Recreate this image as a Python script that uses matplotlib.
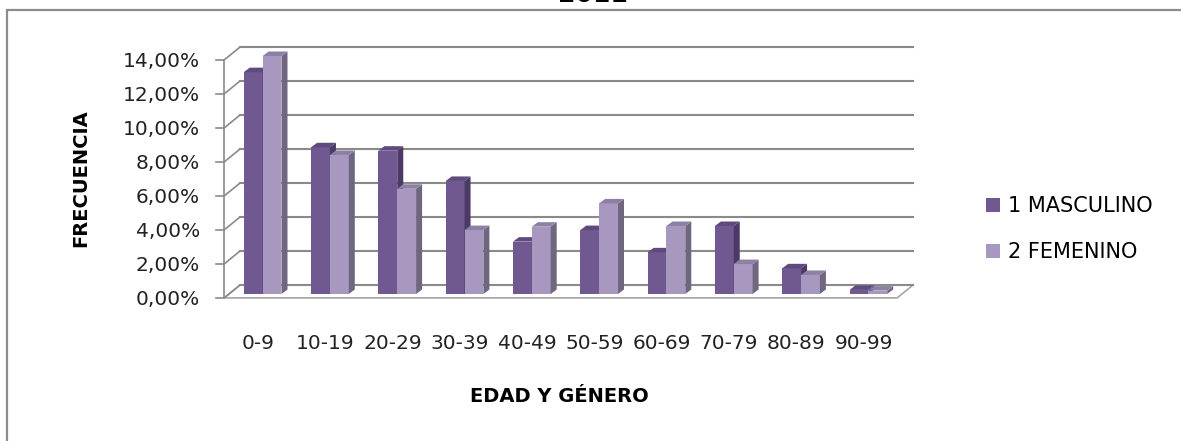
import matplotlib
matplotlib.use("Agg")
import matplotlib.pyplot as plt
import matplotlib.patches as patches
from matplotlib.ticker import FuncFormatter
from matplotlib.transforms import ScaledTranslation

# Age groups and share of each sex (percent)
age_groups = ["0-9", "10-19", "20-29", "30-39", "40-49",
              "50-59", "60-69", "70-79", "80-89", "90-99"]
masculino = [13.05, 8.63, 8.43, 6.65, 3.08, 3.76, 2.45, 4.00, 1.51, 0.24]
femenino = [14.00, 8.18, 6.19, 3.76, 3.96, 5.33, 4.00, 1.76, 1.12, 0.20]
series_names = ["1 MASCULINO", "2 FEMENINO"]
yticks = [0, 2, 4, 6, 8, 10, 12, 14]

# face colours: front, side, top
M_COLORS = ("#705891", "#4b3a66", "#5e4a7c")
F_COLORS = ("#a898c0", "#6f667f", "#8d80a5")
GRID = "#8a8a8a"

W, H, DPI = 1181, 441, 100
fig = plt.figure(figsize=(W / DPI, H / DPI), dpi=DPI)
plt.rcParams['font.family'] = 'DejaVu Sans'

# axes = plane of the bar fronts
AX_L, AX_R, AX_B, AX_T = 229, 902, 294, 56
ax = fig.add_axes([AX_L / W, 1 - AX_B / H, (AX_R - AX_L) / W, (AX_B - AX_T) / H])
ax.set_xlim(-0.5, len(age_groups) - 0.5)
ax.set_ylim(0, yticks[-1])
ax.patch.set_visible(False)
for s in ax.spines.values():
    s.set_visible(False)

px_cat = (AX_R - AX_L) / len(age_groups)
px_pct = (AX_B - AX_T) / yticks[-1]

def to_data(px, py):
    return px / px_cat, py / px_pct

# fake depth of the 3D box (pixels), bar plane sits 30% in
DEPTH = (16, 13)
fx, fy = to_data(-0.3 * DEPTH[0], -0.3 * DEPTH[1])
bx, by = to_data(0.7 * DEPTH[0], 0.7 * DEPTH[1])
x0, x1 = -0.5, len(age_groups) - 0.5

# floor
ax.add_patch(patches.Polygon([(x0 + fx, fy), (x1 + fx, fy), (x1 + bx, by), (x0 + bx, by)],
                             closed=True, facecolor="white", edgecolor="#a6a6a6",
                             lw=1.2, zorder=1, clip_on=False))
# back wall gridlines + left wall diagonals + front tick marks
tick_len, _ = to_data(8, 0)
for v in yticks:
    ax.plot([x0 + bx, x1 + bx], [v + by, v + by], color=GRID, lw=1.5, zorder=1.5, clip_on=False)
    ax.plot([x0 + fx, x0 + bx], [v + fy, v + by], color=GRID, lw=1.2, zorder=1.5, clip_on=False)
    ax.plot([x0 + fx - tick_len, x0 + fx], [v + fy, v + fy], color=GRID, lw=1.2, zorder=1.5, clip_on=False)
ax.plot([x0 + fx, x0 + fx], [fy, yticks[-1] + fy], color=GRID, lw=1.2, zorder=1.5, clip_on=False)

# bars
xs = list(range(len(age_groups)))
bw = 0.28
bdx, bdy = to_data(6, 4.5)

def bars_3d(offset, values, colors, z):
    rects = ax.bar([x + offset for x in xs], values, width=bw, color=colors[0],
                   zorder=z, clip_on=False, linewidth=0)
    for r in rects:
        rx, rw, rh = r.get_x(), r.get_width(), r.get_height()
        side = [(rx + rw, 0), (rx + rw + bdx, bdy), (rx + rw + bdx, rh + bdy), (rx + rw, rh)]
        top = [(rx, rh), (rx + rw, rh), (rx + rw + bdx, rh + bdy), (rx + bdx, rh + bdy)]
        ax.add_patch(patches.Polygon(side, closed=True, facecolor=colors[1], lw=0, zorder=z, clip_on=False))
        ax.add_patch(patches.Polygon(top, closed=True, facecolor=colors[2], lw=0, zorder=z, clip_on=False))
    return rects

bars_m = bars_3d(-bw / 2, masculino, M_COLORS, 3)
bars_f = bars_3d(bw / 2, femenino, F_COLORS, 4)

# ticks
ax.set_yticks(yticks)
ax.yaxis.set_major_formatter(FuncFormatter(lambda v, _: f"{v:.2f}".replace(".", ",") + "%"))
ax.set_xticks(xs)
ax.set_xticklabels(age_groups)
ax.tick_params(axis="y", length=0, pad=21, labelsize=14.5, labelcolor="#222222")
ax.tick_params(axis="x", length=0, pad=29, labelsize=14.5, labelcolor="#222222")
for lbl in ax.get_yticklabels():
    lbl.set_transform(lbl.get_transform() + ScaledTranslation(0, -3.9 / DPI, fig.dpi_scale_trans))
for lbl in ax.get_xticklabels():
    lbl.set_transform(lbl.get_transform() + ScaledTranslation(-4.8 / DPI, 0, fig.dpi_scale_trans))

ax.set_xlabel("EDAD Y GÉNERO", fontsize=14, fontweight="bold", va="center", ha="center")
ax.xaxis.set_label_coords((559 - AX_L) / (AX_R - AX_L), (AX_B - 397) / (AX_B - AX_T))
ax.set_ylabel("FRECUENCIA", fontsize=14, fontweight="bold", va="center", ha="center")
ax.yaxis.set_label_coords((81 - AX_L) / (AX_R - AX_L), (AX_B - 178) / (AX_B - AX_T))

# legend
handles = [patches.Patch(facecolor=M_COLORS[0]), patches.Patch(facecolor=F_COLORS[0])]
fig.legend(handles, series_names, loc="center left", bbox_to_anchor=(986 / W, 1 - 229 / H),
           frameon=False, fontsize=15, handlelength=0.65, handleheight=0.65,
           handletextpad=0.4, labelspacing=1.25, borderpad=0, borderaxespad=0)

# chart area border and title (sits mostly above the top edge)
fig.add_artist(patches.Rectangle((7 / W, -0.1), 1.2, 1.1 - 10 / H, transform=fig.transFigure,
                                 fill=False, edgecolor="#8c8c8c", lw=1.6))
fig.text(593 / W, 1 - 2.5 / H, "2011", ha="center", va="baseline", fontsize=18, fontweight="bold")

fig.savefig("out.png", dpi=DPI)
